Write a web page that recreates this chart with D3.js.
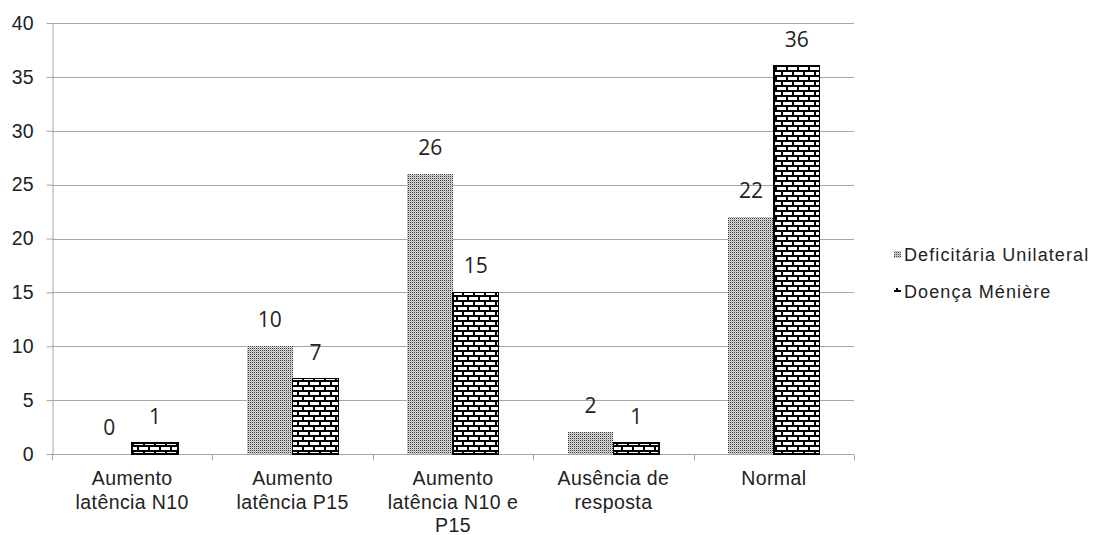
<!DOCTYPE html>
<html>
<head>
<meta charset="utf-8">
<script src="https://cdn.jsdelivr.net/npm/d3@7"></script>
<style>
  html, body { margin: 0; padding: 0; background: #fff; }
  svg { display: block; }
</style>
</head>
<body>
<svg id="chart" width="1101" height="535"></svg>
<script>
// Categories (multi-line labels) and the two series
const categories = [
  ["Aumento", "latência N10"],
  ["Aumento", "latência P15"],
  ["Aumento", "latência N10 e", "P15"],
  ["Ausência de", "resposta"],
  ["Normal"]
];
const seriesNames = ["Deficitária Unilateral", "Doença Ménière"];
const deficitaria = [0, 10, 26, 2, 22];
const meniere = [1, 7, 15, 1, 36];
const yTicks = [0, 5, 10, 15, 20, 25, 30, 35, 40];

const svg = d3.select("#chart");
const margin = { left: 52, right: 247, top: 23, bottom: 81 };
const W = 1101, H = 535;
const sans = "'Liberation Sans', Arial, sans-serif";

const defs = svg.append("defs");
// fine dotted fill
const dot = defs.append("pattern").attr("id", "dots")
  .attr("patternUnits", "userSpaceOnUse").attr("width", 2).attr("height", 2);
dot.append("rect").attr("width", 2).attr("height", 2).attr("fill", "#dcdcdc");
dot.append("rect").attr("width", 1).attr("height", 1).attr("fill", "#3a3a3a");
dot.append("rect").attr("x", 1).attr("y", 1).attr("width", 1).attr("height", 1).attr("fill", "#b0b0b0");
// brick fill
const brick = defs.append("pattern").attr("id", "bricks")
  .attr("patternUnits", "userSpaceOnUse").attr("width", 11).attr("height", 10);
brick.append("rect").attr("width", 11).attr("height", 10).attr("fill", "#fff");
brick.append("rect").attr("x", 0).attr("y", 0).attr("width", 11).attr("height", 2).attr("fill", "#000");
brick.append("rect").attr("x", 0).attr("y", 5).attr("width", 11).attr("height", 2).attr("fill", "#000");
brick.append("rect").attr("x", 0).attr("y", 0).attr("width", 2).attr("height", 6).attr("fill", "#000");
brick.append("rect").attr("x", 5).attr("y", 5).attr("width", 2).attr("height", 6).attr("fill", "#000");

const x = d3.scaleBand().domain(d3.range(categories.length))
  .range([margin.left, W - margin.right]).paddingInner(0).paddingOuter(0);
const y = d3.scaleLinear().domain([0, 40]).range([H - margin.bottom, margin.top]);

const gridColor = "#a6a6a6";

// horizontal gridlines
svg.append("g").selectAll("line").data(yTicks.slice(1)).join("line")
  .attr("x1", margin.left).attr("x2", W - margin.right)
  .attr("y1", d => Math.round(y(d)) + 0.5).attr("y2", d => Math.round(y(d)) + 0.5)
  .attr("stroke", gridColor).attr("stroke-width", 1);

// y axis
const yAxis = svg.append("g").attr("transform", `translate(${margin.left + 0.5},0)`)
  .call(d3.axisLeft(y).tickValues(yTicks).tickSize(6).tickPadding(13).tickSizeOuter(0));
yAxis.attr("font-family", sans);
yAxis.select(".domain").attr("stroke", gridColor);
yAxis.selectAll(".tick line").attr("stroke", gridColor);
yAxis.selectAll(".tick text").attr("font-family", sans)
  .attr("font-size", 19.5).attr("fill", "#222");

// x axis
const xAxisG = svg.append("g").attr("transform", `translate(0,${Math.round(y(0)) + 0.5})`);
xAxisG.append("line").attr("x1", margin.left).attr("x2", W - margin.right)
  .attr("stroke", gridColor);
const xTickPos = d3.range(categories.length + 1).map(i => i < categories.length ? x(i) : x(i - 1) + x.bandwidth());
xAxisG.selectAll("line.t").data(xTickPos).join("line").attr("class", "t")
  .attr("x1", d => Math.round(d) + 0.5).attr("x2", d => Math.round(d) + 0.5)
  .attr("y1", 0).attr("y2", 6).attr("stroke", gridColor);

// category labels
const catG = svg.append("g");
categories.forEach((lines, i) => {
  const t = catG.append("text")
    .attr("x", x(i) + x.bandwidth() / 2).attr("y", 485)
    .attr("text-anchor", "middle")
    .attr("font-family", sans)
    .attr("font-size", 19.5).attr("letter-spacing", 0.4).attr("fill", "#222");
  lines.forEach((ln, j) => {
    t.append("tspan").attr("x", x(i) + x.bandwidth() / 2).attr("dy", j === 0 ? 0 : 23.5).text(ln);
  });
});

// bars
const groupW = x.bandwidth() * 0.57;
const sub = d3.scaleBand().domain([0, 1]).range([0, groupW]);
const seriesData = [deficitaria, meniere];
const fills = ["url(#dots)", "url(#bricks)"];
seriesData.forEach((vals, s) => {
  const g = svg.append("g");
  g.selectAll("rect").data(vals).join("rect")
    .attr("x", (d, i) => x(i) + (x.bandwidth() - groupW) / 2 + sub(s))
    .attr("y", d => y(d))
    .attr("width", sub.bandwidth())
    .attr("height", d => y(0) - y(d))
    .attr("fill", fills[s])
    .attr("stroke", s === 1 ? "#000" : "none")
    .attr("stroke-width", s === 1 ? 1.5 : 0)
    .attr("shape-rendering", "crispEdges");
  g.selectAll("text").data(vals).join("text")
    .attr("x", (d, i) => x(i) + (x.bandwidth() - groupW) / 2 + sub(s) + sub.bandwidth() / 2)
    .attr("y", d => y(d) - 19)
    .attr("text-anchor", "middle")
    .attr("font-family", "'Open Sans', 'Noto Sans', sans-serif")
    .attr("font-size", 21).attr("fill", "#222")
    .text(d => d);
});

// legend
const leg = svg.append("g");
seriesNames.forEach((name, s) => {
  const ly = 255 + s * 37;
  leg.append("rect").attr("x", 894).attr("y", ly - 4).attr("width", 7).attr("height", 7)
    .attr("fill", fills[s]).attr("shape-rendering", "crispEdges");
  leg.append("text").attr("x", 904).attr("y", ly + 6)
    .attr("font-family", sans)
    .attr("font-size", 18).attr("letter-spacing", 1.1).attr("fill", "#222").text(name);
});
</script>
</body>
</html>
